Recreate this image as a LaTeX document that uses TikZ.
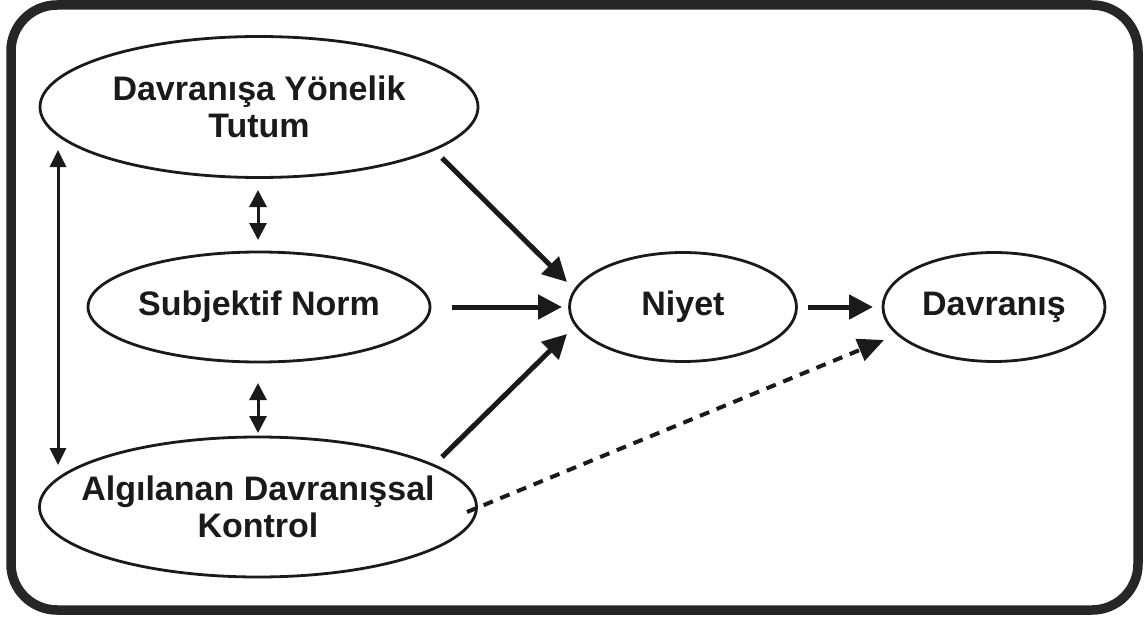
\documentclass[tikz,border=0pt]{standalone}
\usepackage{fontspec}
\setmainfont{Liberation Sans}
\usetikzlibrary{shapes.geometric,arrows.meta}
\definecolor{ink}{HTML}{1A1A1A}
\definecolor{frame}{HTML}{262626}
\begin{document}
\begin{tikzpicture}[x=1pt,y=-1pt,
  oval/.style={draw=ink, line width=2.8pt, ellipse, inner sep=0pt},
  caption/.style={inner sep=0pt, align=center,
    font=\fontsize{34}{37}\selectfont\bfseries, text=ink},
  link/.style={draw=ink, line width=5pt, -{Triangle[length=24pt,width=24pt]}},
  dashlink/.style={draw=ink, line width=4pt, dash pattern=on 10pt off 8pt,
    -{Triangle[length=26pt,width=23pt]}},
  pair/.style={draw=ink, line width=3pt,
    {Triangle[length=17pt,width=17pt]}-{Triangle[length=17pt,width=17pt]}},
  longpair/.style={draw=ink, line width=3pt,
    {Triangle[length=17pt,width=16pt]}-{Triangle[length=17pt,width=16pt]}}]
\useasboundingbox (0,0) rectangle (1145,618);
\fill[white] (0,0) rectangle (1145,618);

% outer frame
\draw[draw=frame, line width=9.5pt, rounded corners=46pt] (11,5) rectangle (1138,610);

% constructs (fixed-size ellipses, text set as a centred label)
\node[oval, minimum width=438pt, minimum height=141pt,
  label={[caption]center:Davranışa Yönelik\\Tutum}] (tutum) at (259,107) {};
\node[oval, minimum width=342pt, minimum height=110pt,
  label={[caption]center:Subjektif Norm}] (norm) at (259,307) {};
\node[oval, minimum width=437pt, minimum height=140pt,
  label={[caption]center:Algılanan Davranışsal\\Kontrol}] (kontrol) at (258,507) {};
\node[oval, minimum width=227pt, minimum height=109pt,
  label={[caption]center:Niyet}] (niyet) at (683,307) {};
\node[oval, minimum width=222pt, minimum height=109pt,
  label={[caption]center:Davranış}] (davranis) at (994,307) {};

% connector end points
\coordinate (tA) at (442,158);  \coordinate (tB) at (567,282);
\coordinate (nA) at (452,307);  \coordinate (nB) at (562,307);
\coordinate (kA) at (442,457);  \coordinate (kB) at (567,334);
\coordinate (yA) at (808,307);  \coordinate (yB) at (873,307);
\coordinate (dA) at (467,512);  \coordinate (dB) at (884,340);
\coordinate (vA) at (58,150);   \coordinate (vB) at (58,465);
\coordinate (s1) at (258,190);  \coordinate (s2) at (258,240);
\coordinate (s3) at (258,383);  \coordinate (s4) at (258,433);

% paths
\draw[link] (tA) -- (tB);
\draw[link] (nA) -- (nB);
\draw[link] (kA) -- (kB);
\draw[link] (yA) -- (yB);
\draw[dashlink] (dA) -- (dB);
\draw[longpair] (vA) -- (vB);
\draw[pair] (s1) -- (s2);
\draw[pair] (s3) -- (s4);
\end{tikzpicture}
\end{document}
